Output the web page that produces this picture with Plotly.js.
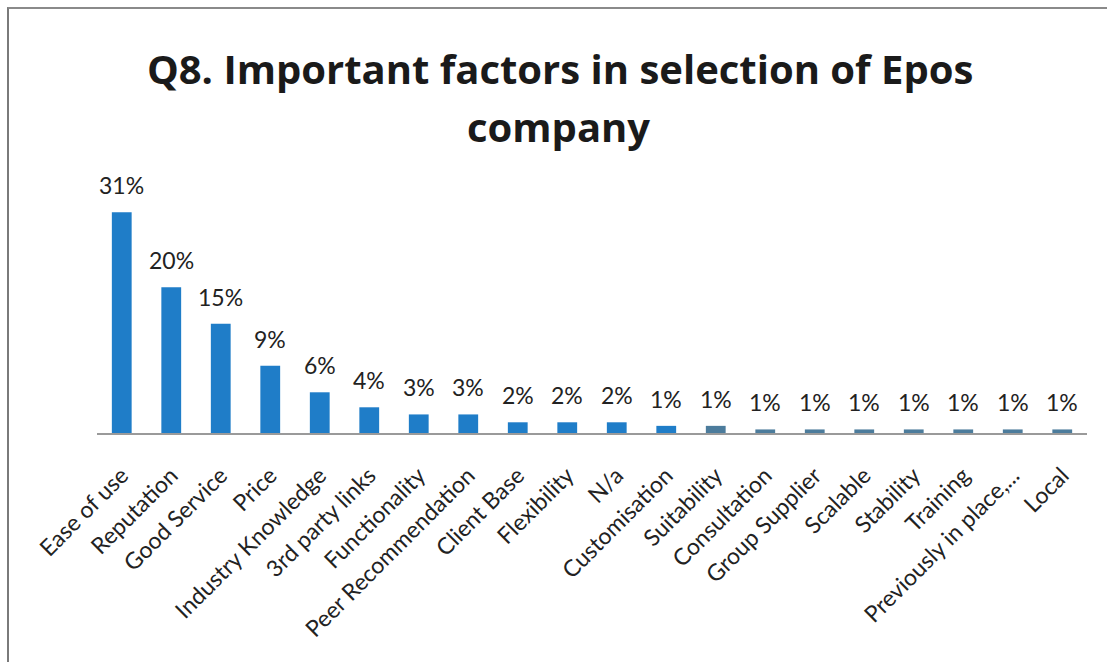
<!DOCTYPE html>
<html>
<head>
<meta charset="utf-8">
<script src="https://cdn.plot.ly/plotly-3.0.1.min.js"></script>
<style>
  html, body { margin: 0; padding: 0; background: #ffffff; }
  #wrap { position: relative; width: 1107px; height: 662px; }
  #chart { position: absolute; left: 0; top: 0; width: 1107px; height: 662px; }
  #frame { position: absolute; left: 7px; top: 7px; width: 1100px; height: 655px;
           border-left: 2px solid #7a7a7a; border-top: 2px solid #8a8a8a;
           pointer-events: none; box-sizing: border-box; }
</style>
</head>
<body>
<div id="wrap">
  <div id="chart"></div>
  <div id="frame"></div>
</div>
<script>
// Data
const categories = [
  "Ease of use", "Reputation", "Good Service", "Price", "Industry Knowledge",
  "3rd party links", "Functionality", "Peer Recommendation", "Client Base",
  "Flexibility", "N/a", "Customisation", "Suitability", "Consultation",
  "Group Supplier", "Scalable", "Stability", "Training",
  "Previously in place,...", "Local"
];
const shares = [30.9, 20.4, 15.3, 9.4, 5.7, 3.6, 2.6, 2.6, 1.5, 1.5,
                1.5, 1.0, 1.0, 0.5, 0.5, 0.5, 0.5, 0.5, 0.5, 0.5];
const pctLabels = shares.map(v => Math.round(v) + "%");
const titleLines = ["Q8. Important factors in selection of Epos", "company"];

const brightBlue = "#1f7dc8";
const dullBlue = "#4c7c9c";
const barColors = categories.map((c, i) => i < 12 ? brightBlue : dullBlue);
const titleFont = { family: "'Open Sans', Lato, sans-serif", size: 40, color: "#1a1a1a", weight: "bold" };

const trace = {
  type: "bar",
  x: categories,
  y: shares,
  marker: { color: barColors, line: { width: 0 } },
  hoverinfo: "x+y"
};

const annotations = categories.map((c, i) => ({
  x: c, y: shares[i], xref: "x", yref: "y",
  text: pctLabels[i], showarrow: false,
  yanchor: "middle", yshift: 27,
  font: { family: "Lato, 'Open Sans', sans-serif", size: 23, color: "#222222" }
}));
// second title line, placed above the plot area
annotations.push({
  text: titleLines[1], showarrow: false,
  xref: "paper", yref: "paper", x: 0.466, xanchor: "center",
  y: 1.226, yanchor: "middle",
  font: titleFont
});

const layout = {
  width: 1107, height: 662,
  paper_bgcolor: "rgba(0,0,0,0)", plot_bgcolor: "rgba(0,0,0,0)",
  margin: { l: 97, r: 20, t: 183, b: 229 },
  title: {
    text: titleLines[0],
    font: titleFont,
    x: 0.506, xanchor: "center", xref: "container",
    y: 1 - 70 / 662, yanchor: "middle", yref: "container"
  },
  bargap: 0.6,
  showlegend: false,
  xaxis: {
    type: "category",
    tickangle: -45,
    showline: true, linecolor: "#9a9a9a", linewidth: 2,
    ticks: "", showgrid: false, zeroline: false,
    ticklabelstandoff: 18,
    tickfont: { family: "Lato, 'Open Sans', sans-serif", size: 23, color: "#222222" }
  },
  yaxis: {
    range: [0, 35],
    showgrid: false, zeroline: false, showline: false,
    showticklabels: false, ticks: ""
  },
  annotations: annotations
};

Plotly.newPlot("chart", [trace], layout, { displayModeBar: false, staticPlot: true });
</script>
</body>
</html>
